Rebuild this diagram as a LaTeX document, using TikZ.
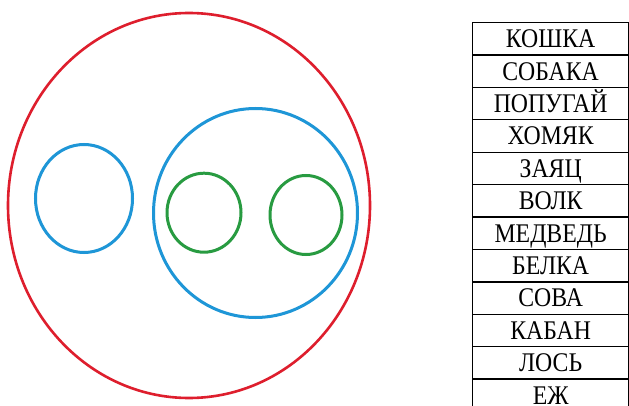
\documentclass[tikz,border=0pt]{standalone}
\usepackage{fontspec}
\setmainfont{Liberation Serif}
\definecolor{cred}{RGB}{222,30,45}
\definecolor{cblue}{RGB}{30,150,215}
\definecolor{cgreen}{RGB}{40,155,65}
\tikzset{
  cell/.style={draw=black, line width=1.3pt, minimum width=156pt, minimum height=32.4pt,
    inner sep=0pt, text height=17.6pt, text depth=0pt, anchor=north west,
    font=\fontsize{24.5}{26}\selectfont},
  redring/.style={draw=cred, line width=2.6pt},
  bluering/.style={draw=cblue, line width=3pt},
  greenring/.style={draw=cgreen, line width=3pt}
}
\begin{document}
\begin{tikzpicture}[x=1pt,y=-1pt]
\useasboundingbox (0,0) rectangle (629,406);
\clip (0,0) rectangle (629,406);
\fill[white] (0,0) rectangle (629,406);
% circles
\draw[redring] (189,205.5) ellipse [x radius=181, y radius=192.5];
\draw[bluering] (84,198.5) ellipse [x radius=48.5, y radius=54];
\draw[bluering] (255.5,213) ellipse [x radius=102, y radius=104.5];
\draw[greenring] (204,212.7) ellipse [x radius=37, y radius=39.5];
\draw[greenring] (306,215) ellipse [x radius=36, y radius=39.5];
% table
\foreach \t [count=\i from 0] in {КОШКА,СОБАКА,ПОПУГАЙ,ХОМЯК,ЗАЯЦ,ВОЛК,МЕДВЕДЬ,БЕЛКА,СОВА,КАБАН,ЛОСЬ,ЕЖ}{
  \node[cell] (r\i) at (472,22+32.4*\i) {\scalebox{0.97}[1.1]{\t}};
}
\end{tikzpicture}
\end{document}
